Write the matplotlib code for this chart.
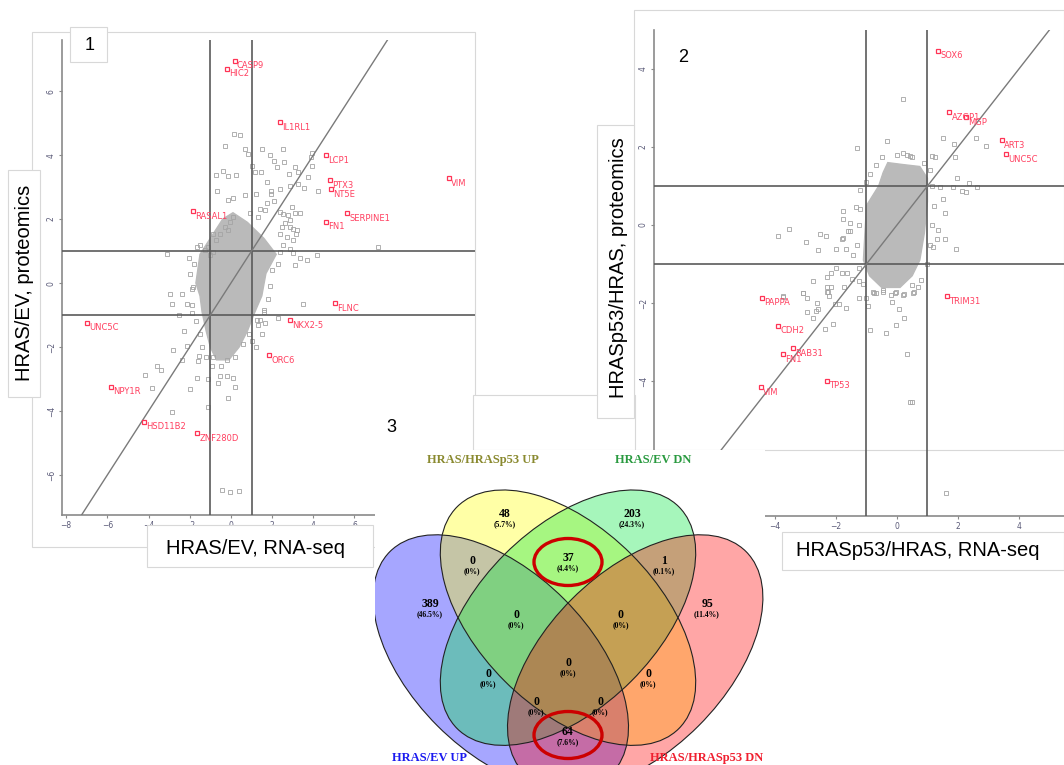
import matplotlib.pyplot as plt
from matplotlib.patches import Ellipse, Rectangle, Polygon
from matplotlib.colors import to_rgba

W, H = 1064, 765

# ---------------- panel 1 : HRAS/EV ----------------
p1_genes = ['CASP9', 'HIC2', 'IL1RL1', 'LCP1', 'PTX3', 'NT5E', 'SERPINE1', 'FN1', 'RASAL1',
            'VIM', 'FLNC', 'NKX2-5', 'ORC6', 'UNC5C', 'NPY1R', 'HSD11B2', 'ZNF280D']
p1_rna = [0.19, -0.21, 2.38, 4.64, 4.81, 4.84, 5.65, 4.64, -1.86,
          10.58, 5.05, 2.86, 1.86, -6.98, -5.83, -4.22, -1.64]
p1_prot = [6.95, 6.70, 5.04, 4.00, 3.22, 2.93, 2.18, 1.92, 2.26,
           3.28, -0.63, -1.16, -2.25, -1.24, -3.24, -4.33, -4.70]

p1_bg_rna = [0.16, 0.44, -0.28, 0.68, 0.84, 1.49, 1.89, 2.51, 2.10, 2.59, 2.22, 3.95, 3.87, 3.95,
             3.75, 3.11, 3.27, 2.83, -0.70, -0.40, -0.13, 0.24, 1.04, 1.17, 1.46, 1.73, 1.97, 2.38,
             2.86, 3.24, 3.56, 4.24, -0.66, 0.11, -0.13, 0.68, 1.21, 1.93, 2.10, 2.96, 2.54, 2.86,
             3.03, 3.16, 2.46, 3.35, 3.67, 3.11, 4.16, 7.15, -3.12, -2.04, -1.67, -0.86,
             -2.96, -2.88, -2.39, -2.15, -1.91, -1.83, -2.80, -2.39, -2.15, -1.59, -1.54, -3.61,
             -3.37, -4.17, -3.85, -1.67, -1.10, -0.53, -0.21, 0.11, -0.61, 0.19, -1.99, -0.13,
             -1.10, -2.88, -0.45, -0.05, 0.39, 1.00, 1.25, 1.41, 1.65, 2.30, 1.62, 3.51, -0.21, -0.86,
             2.62, 2.86, 3.19, 2.38, 2.70, 3.03, 2.54, 2.86, 2.38, 3.03, -1.50, -1.26, -1.10, -0.86,
             -0.70, -0.53, -0.29, -0.05, 0.11, -0.13, -1.02, 2.38, 2.78, 3.11, 3.35, 1.73, 1.41, 0.92,
             1.33, 1.65, -1.9, -2.0, -1.8, -1.9, -1.7, -1.5, -1.4, -1.2, -0.9, -0.5, 0.2, 0.6, 0.9,
             1.3, 1.6, 1.8, 1.9, 2.0, 2.3, 1.5, 1.2, -2.3, -2.5]
p1_bg_prot = [4.66, 4.64, 4.30, 4.19, 4.03, 4.19, 4.01, 4.19, 3.83, 3.78, 3.62, 4.08, 3.93, 3.67,
              3.31, 3.62, 3.47, 3.41, 3.39, 3.49, 3.36, 3.39, 3.65, 3.46, 3.46, 3.15, 2.89, 2.94,
              3.05, 3.10, 2.96, 2.89, 2.89, 2.66, 2.60, 2.74, 2.79, 2.79, 2.58, 2.39, 2.16, 1.96,
              1.70, 1.54, 1.75, 0.77, 0.72, 0.56, 0.87, 1.13, 0.90, 0.77, 1.13, 1.54,
              -0.35, -0.66, -0.33, -0.64, -0.95, -0.12, -2.08, -2.39, -1.98, -2.44, -2.29, -2.58,
              -2.72, -2.86, -3.27, -2.96, -3.01, -2.91, -2.91, -2.96, -3.11, -3.24, -3.32, -3.60,
              -3.86, -4.02, -6.46, -6.52, -6.49, -1.82, -1.15, -1.15, -1.26, -1.10, -0.85, -0.64,
              -2.39, -2.32,
              1.87, 1.76, 1.66, 1.55, 1.45, 1.34, 1.19, 1.08, 0.98, 0.93, 1.19, 1.03, 1.14, 0.98,
              1.34, 1.55, 1.76, 1.92, 2.07, 1.66, 0.87, 2.23, 2.13, 2.18, 2.18, 2.49, 2.33, 2.18,
              2.07, 2.28, -0.2, 0.3, 0.6, -0.7, -1.2, -1.6, -2.0, -2.3, -2.6, -2.6, -2.3, -1.9, -1.6,
              -1.3, -0.9, -0.5, -0.1, 0.4, 0.6, -1.6, -2.0, -1.5, -1.0]

# outline of the dense (saturated) part of the cloud
p1_core_rna = [0.1, 0.8, 1.6, 2.2, 1.7, 1.5, 1.1, 0.8, 0.4, -0.1, -0.7, -1.0, -1.2, -1.4, -1.5,
               -1.7, -1.5, -0.9, -0.4]
p1_core_prot = [2.2, 1.9, 1.4, 0.9, 0.3, -0.4, -1.0, -1.5, -2.0, -2.4, -2.4, -2.0, -1.5, -0.9,
                -0.4, 0.0, 0.9, 1.5, 2.0]

# ---------------- panel 2 : HRASp53/HRAS ----------------
p2_genes = ['SOX6', 'AZGP1', 'MGP', 'ART3', 'UNC5C', 'PAPPA', 'CDH2', 'RAB31', 'FN1',
            'VIM', 'TP53', 'TRIM31']
p2_rna = [1.36, 1.72, 2.28, 3.43, 3.57, -4.42, -3.89, -3.42, -3.73, -4.47, -2.28, 1.63]
p2_prot = [4.47, 2.89, 2.76, 2.18, 1.82, -1.86, -2.58, -3.16, -3.31, -4.16, -3.99, -1.82]

p2_bg_rna = [0.19, -1.32, -0.34, 1.50, 1.88, 2.59, 2.92, 1.90, 0.19, 0.32, 0.43, 1.14, 1.25, 1.96,
             2.37, 1.85, 2.12, 2.28, 2.61, 1.41, 1.52, 1.57, 1.30, 1.57, 1.93, 1.36, 1.17, -1.76,
             -1.78, -1.34, -1.54, -3.91, -3.54, -2.99, -2.52, -2.33, -2.60, -2.01, -1.81, -1.76,
             -1.62, -1.54, -1.68, -1.43, -2.00, -2.31, -2.17, -2.77, -1.79, -1.65, -1.49, -1.23,
             -3.07, -2.25, -2.31, -3.73, -0.75, -0.45, -0.07, 0.21, 0.54,
             -3.73, -3.07, -2.94, -2.63, -2.65, -2.58, -2.94, -2.77, -2.31, -2.22, -2.17, -1.74,
             -2.03, -1.89, -1.67, -2.36, -2.11, -1.23, -1.03, -0.94, -0.78, -0.45, -0.03, 0.22,
             0.56, -0.17, 0.08, 0.23, -0.03, -0.89, -0.36, 0.32, 0.43, 0.48, 1.61,
             -1.2, -0.9, -0.7, -0.5, 0.0, 0.5, 0.9, 1.1, 1.15, 1.2, 1.15, 1.1, 1.0, 0.8, 0.5, -0.2,
             -0.7, -1.1, -1.25, -1.3, -1.25, -1.2, 0.7, -1.0]
p2_bg_prot = [3.22, 1.98, 2.16, 2.24, 2.08, 2.24, 2.03, 1.74, 1.85, 1.79, 1.77, 1.77, 1.74, 1.20,
              1.09, 0.97, 0.88, 0.85, 0.97, 0.98, 0.66, 0.32, -0.37, -0.37, -0.62, -0.13, -0.56,
              0.37, 0.15, 0.47, 0.04, -0.27, -0.11, -0.44, -0.23, -0.28, -0.64, -0.62, -0.37,
              -0.34, -0.15, -0.15, -0.62, -0.77, -1.09, -1.34, -1.24, -1.44, -1.24, -1.24, -1.38,
              -1.44, -1.75, -1.71, -1.60, -1.84, -1.75, -1.71, -1.75, -1.79, -1.75,
              -1.82, -1.75, -1.86, -2.01, -2.20, -2.16, -2.22, -2.39, -1.71, -1.82, -1.60, -1.58,
              -2.03, -2.03, -2.14, -2.67, -2.55, -1.86, -1.86, -2.08, -1.71, -1.67, -1.72, -1.77,
              -1.72, -1.97, -2.16, -2.39, -2.56, -2.68, -2.76, -3.31, -4.55, -4.55, -6.86,
              0.9, 1.3, 1.55, 1.75, 1.8, 1.75, 1.6, 1.4, 1.0, 0.5, 0.0, -0.5, -1.0, -1.4, -1.55,
              -1.8, -1.75, -1.5, -1.1, -0.5, 0.0, 0.4, -1.6, 1.1]

p2_core_rna = [-0.3, 0.2, 0.75, 1.0, 1.0, 0.9, 0.75, 0.5, 0.1, -0.5, -0.9, -1.1, -1.05, -1.0,
               -0.6, -0.45]
p2_core_prot = [1.6, 1.55, 1.5, 1.2, 0.6, -0.2, -0.9, -1.3, -1.6, -1.6, -1.3, -0.9, -0.2, 0.5,
                1.0, 1.35]

# ---------------- panel 3 : Venn ----------------
venn_sets = ['HRAS/EV UP', 'HRAS/HRASp53 UP', 'HRAS/EV DN', 'HRAS/HRASp53 DN']
venn_set_colors = ['#1a1af0', '#8a8a30', '#2a9a40', '#f02030']
venn_fill = ['#0000ff', '#ffff00', '#00e63c', '#ff0000']
venn_counts = [48, 203, 0, 37, 1, 389, 0, 0, 95, 0, 0, 0, 0, 0, 64]
venn_total = 837


def rect(x0, y0, x1, y1):
    return [x0 / W, 1 - y1 / H, (x1 - x0) / W, (y1 - y0) / H]


def box(x0, y0, x1, y1, z=3, ec='#d8d8d8'):
    fig.add_artist(Rectangle((x0 / W, 1 - y1 / H), (x1 - x0) / W, (y1 - y0) / H,
                             transform=fig.transFigure, fc='white', ec=ec, lw=0.8, zorder=z))


def ftext(x, y, s, **kw):
    fig.text(x / W, 1 - y / H, s, zorder=8, **kw)


fig = plt.figure(figsize=(W / 100, H / 100), dpi=100)
fig.patch.set_facecolor('white')

# image frames behind the scatter panels
box(32, 32, 475, 547, z=0.5)
box(634, 10, 1064, 450, z=0.5)
box(473, 395, 635, 450, z=0.5)


def scatter_panel(ax, bg_x, bg_y, core_x, core_y, gx, gy, genes, xlim, ylim, xt, yt):
    ax.set_facecolor('none')
    ax.set_xlim(xlim)
    ax.set_ylim(ylim)
    for s in ['top', 'right']:
        ax.spines[s].set_visible(False)
    for s in ['left', 'bottom']:
        ax.spines[s].set_color('#8a8a8a')
        ax.spines[s].set_linewidth(1.2)
    ax.set_xticks(xt)
    ax.set_yticks(yt)
    ax.tick_params(length=2.5, width=0.8, color='#8a8a8a', labelsize=5.5,
                   labelcolor='#5a5a78', pad=2)
    for lbl in ax.get_yticklabels():
        lbl.set_rotation(90)
        lbl.set_va('center')
    ax.add_patch(Polygon(list(zip(core_x, core_y)), closed=True, fc='#bababa',
                         ec='#bababa', lw=1.0, zorder=2))
    ax.plot(bg_x, bg_y, 's', mfc='none', mec='#a4a4a4', ms=3.2, mew=0.6, zorder=3)
    for v in (-1, 1):
        ax.axvline(v, color='#5a5a5a', lw=1.2, zorder=4)
        ax.axhline(v, color='#5a5a5a', lw=1.2, zorder=4)
    ax.axline((0, 0), slope=1, color='#7a7a7a', lw=1.0, zorder=4)
    ax.plot(gx, gy, 's', mfc='none', mec='#ff3355', ms=3.2, mew=0.9, zorder=5)
    for g, x, y in zip(genes, gx, gy):
        ax.annotate(g, (x, y), xytext=(1.5, -0.5), textcoords='offset points',
                    ha='left', va='top', fontsize=6, color='#ff4060', zorder=6)


ax1 = fig.add_axes(rect(62, 40, 475, 515))
ax1.set_zorder(1)
scatter_panel(ax1, p1_bg_rna, p1_bg_prot, p1_core_rna, p1_core_prot, p1_rna, p1_prot,
              p1_genes, (-8.2, 11.85), (-7.25, 7.6), range(-8, 9, 2), range(-6, 7, 2))

ax2 = fig.add_axes(rect(654, 30, 1064, 516))
ax2.set_zorder(1)
scatter_panel(ax2, p2_bg_rna, p2_bg_prot, p2_core_rna, p2_core_prot, p2_rna, p2_prot,
              p2_genes, (-7.97, 5.48), (-7.46, 5.0), range(-6, 5, 2), range(-6, 5, 2))

# label boxes (pieces of the collage)
box(8, 170, 40, 397)
box(147, 525, 373, 567)
box(70, 27, 107, 62)
box(597, 125, 634, 418)
box(782, 532, 1064, 570)
box(660, 38, 702, 74, ec='white')

ftext(25, 283, 'HRAS/EV, proteomics', rotation=90, ha='center', va='center', fontsize=14.5,
      family='Liberation Sans')
ftext(255, 549, 'HRAS/EV, RNA-seq', ha='center', va='center', fontsize=14.5,
      family='Liberation Sans')
ftext(618, 268, 'HRASp53/HRAS, proteomics', rotation=90, ha='center', va='center',
      fontsize=14.5, family='Liberation Sans')
ftext(918, 550, 'HRASp53/HRAS, RNA-seq', ha='center', va='center', fontsize=14.5,
      family='Liberation Sans')
ftext(90, 46, '1', ha='center', va='center', fontsize=13, family='Liberation Sans')
ftext(683, 57, '2', ha='center', va='center', fontsize=13, family='Liberation Sans')

# ---------------- Venn axes ----------------
box(373, 418, 420, 452, z=6, ec='white')
ftext(391, 428, '3', ha='center', va='center', fontsize=13, family='Liberation Sans')

ax3 = fig.add_axes(rect(375, 450, 765, 765))
ax3.set_zorder(7)
ax3.set_xlim(375, 765)
ax3.set_ylim(765, 450)
ax3.set_xticks([])
ax3.set_yticks([])
for s in ax3.spines.values():
    s.set_visible(False)

# ellipses: centre, angle (VennDiagram quad layout scaled to the picture)
scale = 448
ell = [((0.35, 0.47), 45), ((0.5, 0.57), 45), ((0.5, 0.57), -45), ((0.65, 0.47), -45)]
for (c, ang), col in zip(ell, venn_fill):
    cx = 568 + (c[0] - 0.5) * scale
    cy = 490 + (0.855 - c[1]) * scale
    ax3.add_patch(Ellipse((cx, cy), 0.7 * scale, 0.4 * scale, angle=ang,
                          fc=to_rgba(col, 0.35), ec='none'))
for (c, ang), col in zip(ell, venn_fill):
    cx = 568 + (c[0] - 0.5) * scale
    cy = 490 + (0.855 - c[1]) * scale
    ax3.add_patch(Ellipse((cx, cy), 0.7 * scale, 0.4 * scale, angle=ang,
                          fc='none', ec='#222222', lw=0.8))

venn_pos = [(505, 514), (632, 514), (472, 561), (568, 558), (664, 561), (430, 604),
            (516, 615), (621, 615), (707, 604), (488, 674), (568, 663), (648, 674),
            (536, 702), (600, 702), (568, 732)]
for n, (x, y) in zip(venn_counts, venn_pos):
    pct = '(0%)' if n == 0 else '(%.1f%%)' % (100.0 * n / venn_total)
    ax3.text(x, y, str(n), ha='center', va='center', fontsize=8.5, fontweight='bold',
             family='Liberation Serif')
    ax3.text(x, y + 10, pct, ha='center', va='center', fontsize=5.5, fontweight='bold',
             family='Liberation Serif')

for (x, y) in [(568, 562), (568, 735)]:
    ax3.add_patch(Ellipse((x, y), 68, 47, fc='none', ec='#cc0000', lw=2.4))

label_pos = [(430, 758), (483, 460), (653, 460), (707, 758)]
for s, c, (x, y) in zip(venn_sets, venn_set_colors, label_pos):
    ax3.text(x, y, s, ha='center', va='center', fontsize=9, fontweight='bold',
             family='Liberation Serif', color=c)

fig.savefig('out.png', dpi=100)
